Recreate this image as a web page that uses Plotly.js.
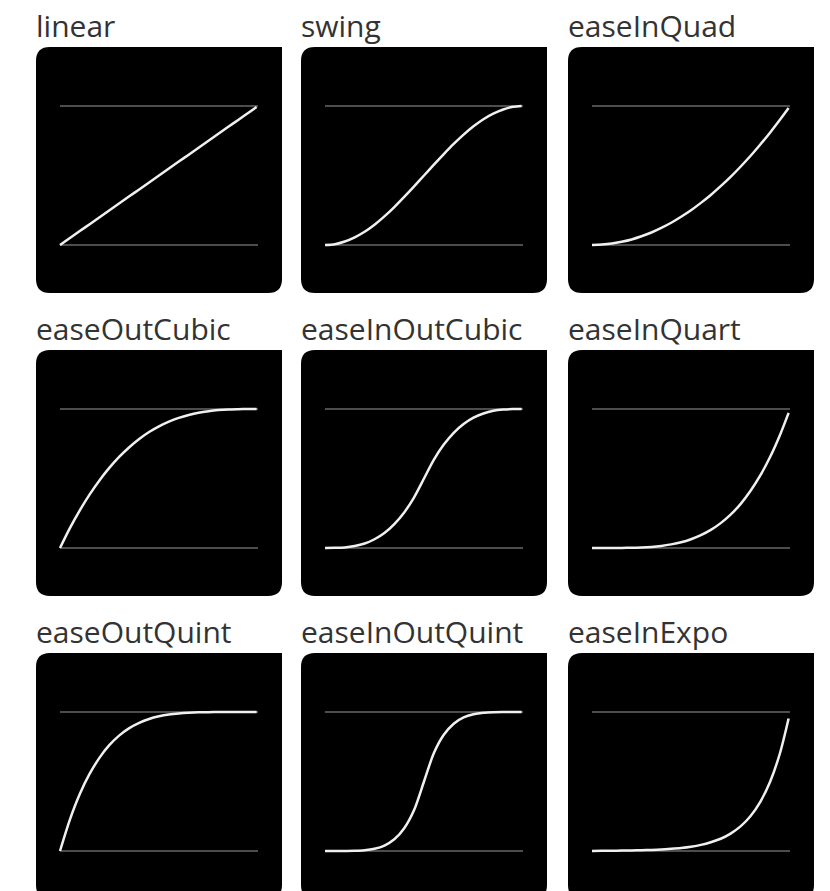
<!DOCTYPE html>
<html>
<head>
<meta charset="utf-8">
<script src="https://cdn.plot.ly/plotly-3.0.1.min.js"></script>
<style>html,body{margin:0;padding:0;background:#fff;}#chart{width:830px;height:891px;}</style>
</head>
<body>
<div id="chart"></div>
<script>
// ---- data ----
const names = ["linear","swing","easeInQuad","easeOutCubic","easeInOutCubic","easeInQuart","easeOutQuint","easeInOutQuint","easeInExpo"];
const t = [0,0.05,0.1,0.15,0.2,0.25,0.3,0.35,0.4,0.45,0.5,0.55,0.6,0.65,0.7,0.75,0.8,0.85,0.9,0.95,0.993];
const linear = [0,0.05,0.1,0.15,0.2,0.25,0.3,0.35,0.4,0.45,0.5,0.55,0.6,0.65,0.7,0.75,0.8,0.85,0.9,0.95,0.993];
const swing = [0,0.006,0.025,0.055,0.095,0.146,0.206,0.273,0.346,0.422,0.5,0.578,0.654,0.727,0.794,0.854,0.905,0.945,0.975,0.994,1];
const easeInQuad = [0,0.003,0.01,0.023,0.04,0.063,0.09,0.123,0.16,0.203,0.25,0.303,0.36,0.423,0.49,0.563,0.64,0.723,0.81,0.903,0.986];
const easeOutCubic = [0,0.143,0.271,0.386,0.488,0.578,0.657,0.725,0.784,0.834,0.875,0.909,0.936,0.957,0.973,0.984,0.992,0.997,0.999,1,1];
const easeInOutCubic = [0,0.001,0.004,0.014,0.032,0.063,0.108,0.172,0.256,0.365,0.5,0.636,0.744,0.829,0.892,0.938,0.968,0.987,0.996,0.9995,1];
const easeInQuart = [0,0,0.0001,0.0005,0.0016,0.004,0.008,0.015,0.026,0.041,0.063,0.092,0.13,0.179,0.24,0.316,0.41,0.522,0.656,0.815,0.972];
const easeOutQuint = [0,0.226,0.41,0.556,0.672,0.763,0.832,0.884,0.922,0.95,0.969,0.982,0.99,0.995,0.998,0.999,1,1,1,1,1];
const easeInOutQuint = [0,0,0.0002,0.001,0.005,0.016,0.039,0.084,0.164,0.295,0.5,0.705,0.836,0.916,0.961,0.984,0.995,0.999,1,1,1];
const easeInExpo = [0,0.001,0.002,0.003,0.004,0.006,0.008,0.011,0.016,0.022,0.031,0.044,0.063,0.088,0.125,0.177,0.25,0.354,0.5,0.707,0.953];
const series = [linear, swing, easeInQuad, easeOutCubic, easeInOutCubic, easeInQuart, easeOutQuint, easeInOutQuint, easeInExpo];
const guideBottom = [0, 0];
const guideTop = [1, 1];
const guideX = [0, 1];

// ---- layout geometry (pixels) ----
const W = 830, H = 891;
const colLeft = [36, 301, 568];
const rowTop = [47, 350, 653];
const PW = 246, PH = 246;
const inL = 24, inR = 24, inT = 59, inB = 48;
const pad = 5;
const radius = 14;

const traces = [];
const layout = {
  width: W, height: H,
  margin: {l: 0, r: 0, t: 0, b: 0},
  paper_bgcolor: "#ffffff",
  plot_bgcolor: "rgba(0,0,0,0)",
  showlegend: false,
  shapes: [],
  annotations: []
};

names.forEach((name, i) => {
  const r = Math.floor(i / 3), c = i % 3;
  const px0 = colLeft[c], py0 = rowTop[r];
  const cx0 = px0 + inL, cx1 = px0 + PW - inR;
  const cy0 = py0 + inT, cy1 = py0 + PH - inB;
  const spanX = cx1 - cx0, spanY = cy1 - cy0;
  const k = i === 0 ? "" : String(i + 1);
  const xa = "xaxis" + k, ya = "yaxis" + k;
  layout[xa] = {
    domain: [(cx0 - pad) / W, (cx1 + pad) / W],
    range: [-pad / spanX, 1 + pad / spanX],
    visible: false, fixedrange: true
  };
  layout[ya] = {
    domain: [1 - (cy1 + pad) / H, 1 - (cy0 - pad) / H],
    range: [-pad / spanY, 1 + pad / spanY],
    visible: false, fixedrange: true
  };
  const xr = "x" + k, yr = "y" + k;
  traces.push({x: guideX, y: guideBottom, xaxis: xr, yaxis: yr, mode: "lines", line: {color: "#4d4d4d", width: 2}, hoverinfo: "skip", cliponaxis: false});
  traces.push({x: guideX, y: guideTop, xaxis: xr, yaxis: yr, mode: "lines", line: {color: "#4d4d4d", width: 2}, hoverinfo: "skip", cliponaxis: false});
  traces.push({x: t, y: series[i], xaxis: xr, yaxis: yr, mode: "lines", name: name,
    line: {color: "#f0f0f0", width: 2.5, shape: "spline", smoothing: 0.8}, cliponaxis: false});

  // black rounded panel (top-right corner square)
  const x0 = px0 / W, x1 = (px0 + PW) / W;
  const yt = 1 - py0 / H, yb = 1 - (py0 + PH) / H;
  const rx = radius / W, ry = radius / H;
  const f = v => v.toFixed(5);
  const path = "M" + f(x0 + rx) + "," + f(yt) +
    " L" + f(x1) + "," + f(yt) +
    " L" + f(x1) + "," + f(yb + ry) +
    " Q" + f(x1) + "," + f(yb) + " " + f(x1 - rx) + "," + f(yb) +
    " L" + f(x0 + rx) + "," + f(yb) +
    " Q" + f(x0) + "," + f(yb) + " " + f(x0) + "," + f(yb + ry) +
    " L" + f(x0) + "," + f(yt - ry) +
    " Q" + f(x0) + "," + f(yt) + " " + f(x0 + rx) + "," + f(yt) + " Z";
  layout.shapes.push({type: "path", xref: "paper", yref: "paper", path: path,
    fillcolor: "#000000", line: {width: 0}, layer: "below"});

  layout.annotations.push({
    text: name, xref: "paper", yref: "paper",
    x: (px0 - 2) / W, y: 1 - (py0 + 1) / H,
    xanchor: "left", yanchor: "bottom", showarrow: false,
    font: {family: "Open Sans", size: 30, color: "#333333"}
  });
});

Plotly.newPlot("chart", traces, layout, {staticPlot: true, displayModeBar: false});
</script>
</body>
</html>
